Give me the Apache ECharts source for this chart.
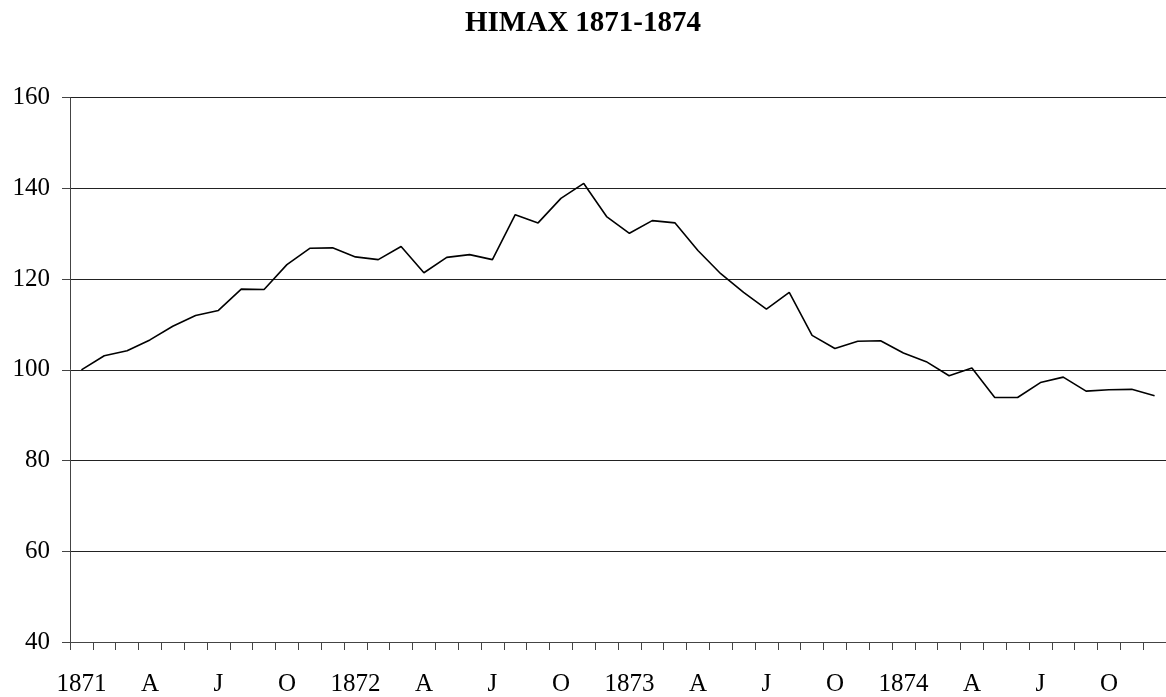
<!DOCTYPE html>
<html>
<head>
<meta charset="utf-8">
<script src="https://cdn.jsdelivr.net/npm/echarts@6/dist/echarts.min.js"></script>
<style>
html,body{margin:0;padding:0;background:#fff;}
#chart{width:1166px;height:697px;}
</style>
</head>
<body>
<div id="chart"></div>
<script>
var titleText = 'HIMAX 1871-1874';
var months = [];
var years = [1871, 1872, 1873, 1874];
for (var yi = 0; yi < years.length; yi++) {
  for (var m = 1; m <= 12; m++) months.push(years[yi] + '-' + (m < 10 ? '0' + m : m));
}
var xTickLabels = ['1871','A','J','O','1872','A','J','O','1873','A','J','O','1874','A','J','O'];
var yTicks = [40, 60, 80, 100, 120, 140, 160];
var himax = [
  100.0, 103.1, 104.2, 106.6, 109.6, 112.0, 113.1, 117.8, 117.7, 123.2, 126.8, 126.9,
  124.9, 124.3, 127.2, 121.4, 124.8, 125.4, 124.3, 134.2, 132.4, 137.8, 141.1, 133.8,
  130.1, 132.9, 132.4, 126.3, 121.2, 117.1, 113.4, 117.1, 107.6, 104.7, 106.3, 106.4,
  103.7, 101.8, 98.7, 100.4, 93.9, 93.9, 97.2, 98.4, 95.3, 95.6, 95.7, 94.3
];

var chart = echarts.init(document.getElementById('chart'), null, {renderer: 'canvas'});
chart.setOption({
  animation: false,
  backgroundColor: '#fff',
  title: {
    text: titleText,
    left: 'center',
    top: 4,
    textStyle: {fontFamily: 'Liberation Serif', fontWeight: 'bold', fontSize: 29, color: '#000'}
  },
  grid: {left: 70, top: 97.7, width: 1104, height: 548.6, containLabel: false},
  xAxis: {
    type: 'category',
    data: months,
    boundaryGap: true,
    axisLine: {lineStyle: {color: '#444', width: 1}},
    axisTick: {show: true, interval: 0, length: 8, lineStyle: {color: '#444'}},
    axisLabel: {
      interval: 0,
      margin: 30,
      fontFamily: 'Liberation Serif',
      fontSize: 25,
      color: '#000',
      formatter: function (v, i) { return i % 3 === 0 ? xTickLabels[i / 3] : ''; }
    },
    splitLine: {show: false}
  },
  yAxis: {
    type: 'value',
    min: yTicks[0],
    max: yTicks[yTicks.length - 1],
    interval: 20,
    axisLine: {show: true, lineStyle: {color: '#444', width: 1}},
    axisTick: {show: true, length: 8, lineStyle: {color: '#444'}},
    axisLabel: {margin: 20, fontFamily: 'Liberation Serif', fontSize: 25, color: '#000'},
    splitLine: {show: true, lineStyle: {color: '#222', width: 1}}
  },
  series: [{
    type: 'line',
    data: himax,
    showSymbol: false,
    symbol: 'none',
    lineStyle: {color: '#000', width: 1.6},
    itemStyle: {color: '#000'}
  }]
});
</script>
</body>
</html>
